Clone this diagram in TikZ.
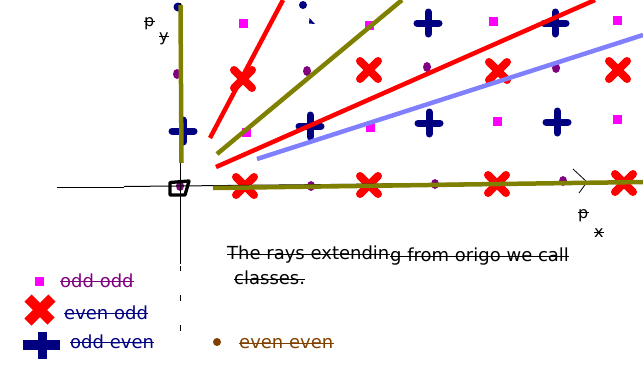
\documentclass[tikz,border=0pt]{standalone}
\usepackage{fontspec}
\setmainfont{DejaVu Sans}
\definecolor{olv}{HTML}{808000}
\definecolor{navyc}{HTML}{000080}
\definecolor{purp}{HTML}{800080}
\definecolor{mag}{HTML}{FF00FF}
\definecolor{lblue}{HTML}{8080FF}
\definecolor{brn}{HTML}{804000}
\definecolor{rd}{HTML}{FF0000}
\tikzset{
  redx/.pic={\draw[rd, line width=8pt, line cap=round] (-9,-9)--(9,9) (-9,9)--(9,-9);},
  navyplus/.pic={\draw[navyc, line width=7pt, line cap=round] (-11,0)--(11,0) (0,-11)--(0,11);},
  msq/.pic={\fill[mag] (-4.5,-4.5) rectangle (4.5,4.5);},
  pdot/.pic={\fill[purp] (0,0) ellipse [x radius=4pt, y radius=5pt];},
  txt/.style={anchor=base west, inner sep=0pt, font=\fontsize{18}{21}\selectfont},
  smalltxt/.style={anchor=base west, inner sep=0pt, font=\fontsize{16}{19}\selectfont},
  strk/.style={line width=1pt},
  axis/.style={black, line width=1pt},
  ray/.style={line width=4.5pt},
}
\begin{document}
\begin{tikzpicture}[x=1pt,y=-1pt]
\useasboundingbox (0,0) rectangle (643,373);
% markers row 0
\pic at (180,186) {pdot};
\pic at (245,186) {redx};
\pic at (311,186) {pdot};
\pic at (369,185) {redx};
\pic at (435,184) {pdot};
\pic at (497,184) {redx};
\pic at (563,181) {pdot};
\pic at (624,183) {redx};
% row 1
\pic at (183,131) {navyplus};
\pic at (246,132) {msq};
\pic at (310,126) {navyplus};
\pic at (370,127) {msq};
\pic at (429,123) {navyplus};
\pic at (497,121) {msq};
\pic at (557,122) {navyplus};
\pic at (617,119) {msq};
% row 2
\pic at (177,74) {pdot};
\pic at (243,79) {redx};
\pic at (307,71) {pdot};
\pic at (369,70) {redx};
\pic at (427,67) {pdot};
\pic at (498,71) {redx};
\pic at (556,68) {pdot};
\pic at (618,70) {redx};
% row 3
\fill[navyc] (178,7) circle [radius=4.5pt];
\pic at (243,23) {msq};
\fill[navyc] (303,5) circle [radius=4pt];
\fill[navyc] (309.5,18) -- (315,24) -- (309,23.5) -- cycle;
\pic at (369,25) {msq};
\pic at (428,23) {navyplus};
\pic at (493,21) {msq};
\pic at (555,23) {navyplus};
\pic at (617,20) {msq};
% axes
\coordinate (hx0) at (57,187.5);
\coordinate (hx1) at (124,187.5);
\coordinate (hx2) at (124,186.5);
\coordinate (hx3) at (587,182);
\coordinate (ar1) at (573,169);
\coordinate (ar2) at (579,193);
\draw[axis] (hx0) -- (hx1);
\draw[axis] (hx2) -- (hx3);
\draw[black, line width=0.8pt] (ar1) -- (hx3) -- (ar2);
\coordinate (vy0) at (180,3);
\coordinate (vy1) at (180,264);
\draw[axis] (vy0) -- (vy1);
\draw[axis] (180.5,266) -- (180.5,271) (180.5,295) -- (180.5,301) (180.5,325) -- (180.5,331);
% origin box
\draw[black, line width=3.3pt, line join=round] (170,182.5) -- (189,181) -- (185,195) -- (170,195) -- cycle;
% rays
\draw[olv, ray] (180.5,5) -- (181.5,163);
\draw[olv, ray] (213,188) -- (643,182);
\draw[olv, ray] (217,154) -- (402,0);
\draw[rd, ray] (210,138) -- (283,0);
\draw[rd, ray] (216,167) -- (595,0);
\draw[lblue, ray] (257,159) -- (643,35);
% axis labels
\node[smalltxt] (py1) at (144,26) {p};
\draw[strk] ([yshift=5pt]py1.base west) -- ([yshift=5pt]py1.base east);
\node[smalltxt] (py2) at (159,41) {y};
\draw[strk] ([yshift=5pt]py2.base west) -- ([yshift=5pt]py2.base east);
\node[smalltxt] (px1) at (578,218) {p};
\draw[strk] ([yshift=6pt]px1.base west) -- ([yshift=6pt]px1.base east);
\node[smalltxt] (px2) at (594,237) {x};
\draw[strk] ([yshift=5pt]px2.base west) -- ([yshift=5pt]px2.base east);
% text
\node[txt] (t1) at (227,259) {The rays extendin};
\draw[strk] ([yshift=5pt]t1.base west) -- ([yshift=5pt]t1.base east);
\node[txt] (t2) at (390,261) {g from origo we call};
\draw[strk] ([yshift=5pt]t2.base west) -- ([yshift=5pt]t2.base east);
\node[txt] (t3) at (234,284) {classes.};
\draw[strk] ([yshift=5pt]t3.base west) -- ([yshift=5pt]t3.base east);
% legend
\fill[mag] (34.5,276.5) rectangle (43.5,285.5);
\node[txt, text=purp] (l1) at (60,287) {odd odd};
\draw[strk, purp] ([yshift=6pt]l1.base west) -- ([yshift=6pt]l1.base east);
\draw[rd, line width=10pt] (28,298) -- (51,321) (28,322) -- (52,298);
\node[txt, text=navyc] (l2) at (64,319) {even odd};
\draw[strk, navyc] ([yshift=6pt]l2.base west) -- ([yshift=6pt]l2.base east);
\fill[navyc] (23,340) rectangle (60,350);
\fill[navyc] (38,332) rectangle (47,359);
\node[txt, text=navyc] (l3) at (70,348) {odd even};
\draw[strk, navyc] ([yshift=6pt]l3.base west) -- ([yshift=6pt]l3.base east);
\fill[brn] (217,342) circle [radius=4pt];
\node[txt, text=brn] (l4) at (239,348) {even even};
\draw[strk, brn] ([yshift=5pt]l4.base west) -- ([yshift=5pt]l4.base east);
\end{tikzpicture}
\end{document}
